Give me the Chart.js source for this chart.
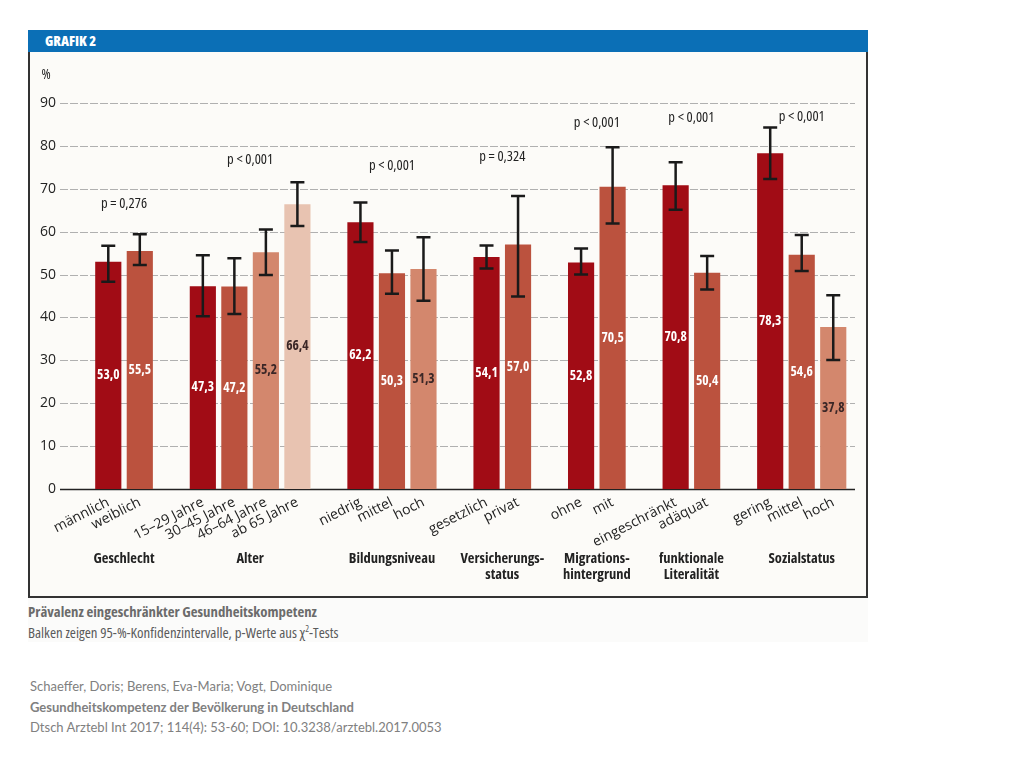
<!DOCTYPE html>
<html lang="de">
<head>
<meta charset="utf-8">
<script src="https://cdn.jsdelivr.net/npm/chart.js@4.4.1/dist/chart.umd.min.js"></script>
<style>
  body { margin: 0; background: #fff; width: 1024px; height: 768px; position: relative; overflow: hidden;
         font-family: "Open Sans", sans-serif; font-stretch: condensed; }
  #head { position: absolute; left: 28px; top: 30px; width: 840px; height: 22px; background: #0b6fb6;
          color: #fff; font-weight: 800; font-size: 14px; line-height: 22px; padding-left: 17px; box-sizing: border-box; }
  #panel { position: absolute; left: 28px; top: 52px; width: 840px; height: 546px; background: #fcfbf8;
           border: 2px solid #333; border-top: none; box-sizing: border-box; }
  #panel canvas { position: absolute; left: 0; top: 0; }
  #caption { position: absolute; left: 28px; top: 598px; width: 840px; height: 44px; background: #fbfbfa; }
  #caption .t { font-weight: bold; color: #6b6b6b; font-size: 14.8px; line-height: 17px; margin-top: 5px; }
  #caption .s { color: #5a5a5a; font-size: 14.8px; line-height: 17px; }
  #cite { position: absolute; left: 30px; top: 676px; font-family: Lato, sans-serif; font-stretch: normal;
          font-size: 13px; line-height: 20.5px; color: #808080; }
</style>
</head>
<body>
<div id="head">GRAFIK 2</div>
<div id="panel"><canvas id="chart" width="836" height="544"></canvas></div>
<div id="caption">
  <div class="t">Prävalenz eingeschränkter Gesundheitskompetenz</div>
  <div class="s">Balken zeigen 95-%-Konfidenzintervalle, p-Werte aus χ<sup style="font-size:9px">2</sup>-Tests</div>
</div>
<div id="cite">
  Schaeffer, Doris; Berens, Eva-Maria; Vogt, Dominique<br>
  <b>Gesundheitskompetenz der Bevölkerung in Deutschland</b><br>
  Dtsch Arztebl Int 2017; 114(4): 53-60; DOI: 10.3238/arztebl.2017.0053
</div>
<script>
// ===============================
// DATEN
// ===============================
const groupNames = [["Geschlecht"], ["Alter"], ["Bildungsniveau"], ["Versicherungs-", "status"],
                    ["Migrations-", "hintergrund"], ["funktionale", "Literalität"], ["Sozialstatus"]];
const groupSizes = [2, 4, 3, 2, 2, 2, 3];
const pValues = ["p = 0,276", "p < 0,001", "p < 0,001", "p = 0,324", "p < 0,001", "p < 0,001", "p < 0,001"];

const categories = ["männlich", "weiblich",
                    "15–29 Jahre", "30–45 Jahre", "46–64 Jahre", "ab 65 Jahre",
                    "niedrig", "mittel", "hoch",
                    "gesetzlich", "privat",
                    "ohne", "mit",
                    "eingeschränkt", "adäquat",
                    "gering", "mittel", "hoch"];
const prevalence = [53.0, 55.5, 47.3, 47.2, 55.2, 66.4, 62.2, 50.3, 51.3, 54.1, 57.0, 52.8, 70.5, 70.8, 50.4, 78.3, 54.6, 37.8];
const ciLower = [48.3, 52.2, 40.3, 40.8, 49.9, 61.3, 57.6, 45.5, 43.9, 51.4, 44.9, 50.0, 61.9, 65.1, 46.5, 72.3, 50.8, 30.1];
const ciUpper = [56.7, 59.4, 54.5, 53.8, 60.5, 71.5, 66.8, 55.6, 58.7, 56.8, 68.3, 56.1, 79.7, 76.2, 54.3, 84.3, 59.2, 45.2];
const yTicks = [0, 10, 20, 30, 40, 50, 60, 70, 80, 90];

// Höhe der p-Wert-Beschriftung (in %-Einheiten der Achse)
const pLabelLevel = [66.4, 76.7, 75.3, 77.4, 85.3, 86.5, 86.7];

// ===============================
// SLOTS (mit Lücken zwischen Gruppen)
// ===============================
const shades = ["#a10c15", "#bb523e", "#d3876d", "#e8c3b1"];
const shadeText = ["#fff", "#fff", "#3a2626", "#3a2626"];

const slotLabels = [""], slotValues = [null], slotLow = [null], slotHigh = [null];
const slotColor = ["#fff"], slotText = [null], groupSlots = [];
let k = 0;
groupSizes.forEach((n, g) => {
    if (g > 0) { slotLabels.push(""); slotValues.push(null); slotLow.push(null); slotHigh.push(null); slotColor.push("#fff"); slotText.push(null); }
    const idx = [];
    for (let j = 0; j < n; j++, k++) {
        idx.push(slotLabels.length);
        slotLabels.push(categories[k]);
        slotValues.push(prevalence[k]);
        slotLow.push(ciLower[k]);
        slotHigh.push(ciUpper[k]);
        slotColor.push(shades[j]);
        slotText.push(shadeText[j]);
    }
    groupSlots.push(idx);
});

const FONT = '"Open Sans", "DejaVu Sans Condensed", sans-serif';
const font = (w, s) => "condensed " + w + " " + s + "px " + FONT;

// ===============================
// PLUGIN: Gitter, Fehlerbalken, Beschriftungen
// ===============================
const decor = {
    id: "decor",
    beforeDatasetsDraw(chart) {
        const { ctx, chartArea: a, scales: { y } } = chart;
        ctx.save();
        yTicks.forEach(v => {
            const py = Math.round(y.getPixelForValue(v)) + 0.5;
            ctx.beginPath();
            if (v === 0) { ctx.strokeStyle = "#222"; ctx.lineWidth = 1.6; ctx.setLineDash([]); }
            else { ctx.strokeStyle = "#b0b0b0"; ctx.lineWidth = 1; ctx.setLineDash([8, 2]); }
            ctx.moveTo(a.left - 1, py);
            ctx.lineTo(a.right + 6, py);
            ctx.stroke();
        });
        ctx.restore();
    },
    afterDatasetsDraw(chart) {
        const { ctx, scales: { x, y } } = chart;
        ctx.save();
        // Fehlerbalken
        ctx.strokeStyle = "#1a1a1a";
        ctx.lineWidth = 2.5;
        slotValues.forEach((v, i) => {
            if (v === null) return;
            const px = x.getPixelForValue(i);
            const lo = y.getPixelForValue(slotLow[i]);
            const hi = y.getPixelForValue(slotHigh[i]);
            ctx.beginPath();
            ctx.moveTo(px, lo); ctx.lineTo(px, hi);
            ctx.moveTo(px - 7, lo); ctx.lineTo(px + 7, lo);
            ctx.moveTo(px - 7, hi); ctx.lineTo(px + 7, hi);
            ctx.stroke();
        });
        // Werte in den Balken
        ctx.font = font("bold", 13.5);
        ctx.textAlign = "center";
        ctx.textBaseline = "middle";
        slotValues.forEach((v, i) => {
            if (v === null) return;
            ctx.fillStyle = slotText[i];
            ctx.fillText(v.toFixed(1).replace(".", ","), x.getPixelForValue(i), y.getPixelForValue(v / 2));
        });
        // p-Werte und Gruppennamen
        groupSlots.forEach((idx, g) => {
            const cx = (x.getPixelForValue(idx[0]) + x.getPixelForValue(idx[idx.length - 1])) / 2;
            ctx.fillStyle = "#222";
            ctx.font = font("normal", 14.5);
            ctx.fillText(pValues[g], cx, y.getPixelForValue(pLabelLevel[g]));
            ctx.font = font("bold", 14.5);
            groupNames[g].forEach((line, l) => ctx.fillText(line, cx, 507 + l * 16));
        });
        // Einheit
        ctx.font = font("normal", 14);
        ctx.fillStyle = "#222";
        ctx.fillText("%", 16, 23);
        ctx.restore();
    }
};

// ===============================
// DIAGRAMM
// ===============================
new Chart(document.getElementById("chart"), {
    type: "bar",
    data: {
        labels: slotLabels,
        datasets: [{
            data: slotValues,
            backgroundColor: slotColor,
            barPercentage: 0.83,
            categoryPercentage: 1
        }]
    },
    options: {
        responsive: false,
        animation: false,
        devicePixelRatio: 1,
        layout: { padding: { top: 51, right: 17, left: 0, bottom: 0 } },
        plugins: { legend: { display: false }, tooltip: { enabled: false } },
        scales: {
            x: {
                grid: { display: false, drawTicks: false },
                border: { display: false },
                afterFit: s => { s.height = 107; },
                ticks: {
                    autoSkip: false, minRotation: 27, maxRotation: 27, padding: 5,
                    color: "#222", font: { family: FONT, size: 14, style: "condensed" }
                }
            },
            y: {
                min: 0, max: 90,
                grid: { display: false, drawTicks: false },
                border: { display: false },
                afterFit: s => { s.width = 31; },
                afterBuildTicks: s => { s.ticks = yTicks.map(v => ({ value: v })); },
                ticks: { padding: 5, color: "#222", font: { family: FONT, size: 14, style: "condensed" } }
            }
        }
    },
    plugins: [decor]
});
</script>
</body>
</html>
